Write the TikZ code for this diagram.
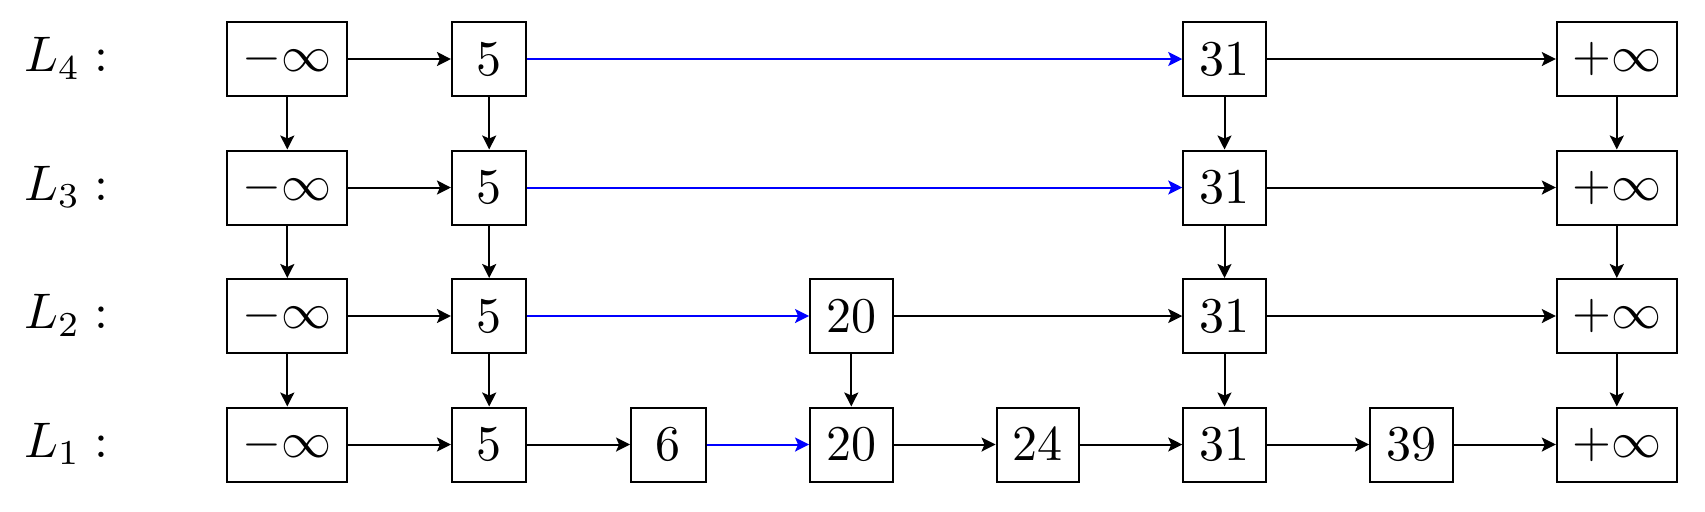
\documentclass[tikz,border=0pt]{standalone}
\usetikzlibrary{arrows.meta}
\tikzset{
  box/.style={draw, line width=0.4pt, inner sep=0pt, minimum height=14.8pt},
  wbox/.style={box, minimum width=24.0pt},
  mbox/.style={box, minimum width=16.5pt},
  nbox/.style={box, minimum width=14.9pt},
  arr/.style={-{Stealth[length=2.8pt,width=2.8pt,inset=0.6pt]}, line width=0.4pt},
  barr/.style={arr, blue},
  lab/.style={anchor=base west, inner sep=0pt}
}
\begin{document}
\begin{tikzpicture}[x=0.2pt,y=-0.2pt]
\useasboundingbox (0,0) rectangle (1705,511);
\foreach \r/\y in {4/59,3/187.5,2/316,1/444.5}{
  \node[lab] (L\r) at (23,{\y+12.7}) {$L_\r :$};
  \node[wbox] (m\r) at (287.3,\y) {$-\infty$};
  \node[nbox] (a\r) at (489.2,\y) {$5$};
  \node[mbox] (d\r) at (1224.5,\y) {$31$};
  \node[wbox] (p\r) at (1616.8,\y) {$+\infty$};
}
\node[mbox] (c2) at (851.3,316) {$20$};
\node[nbox] (b1) at (668.3,444.5) {$6$};
\node[mbox] (c1) at (851.3,444.5) {$20$};
\node[mbox] (e1) at (1037.8,444.5) {$24$};
\node[mbox] (f1) at (1411.3,444.5) {$39$};
% row 4 and 3
\foreach \r in {4,3}{
  \draw[arr] (m\r) -- (a\r);
  \draw[barr] (a\r) -- (d\r);
  \draw[arr] (d\r) -- (p\r);
}
% row 2
\draw[arr] (m2) -- (a2);
\draw[barr] (a2) -- (c2);
\draw[arr] (c2) -- (d2);
\draw[arr] (d2) -- (p2);
% row 1
\draw[arr] (m1) -- (a1);
\draw[arr] (a1) -- (b1);
\draw[barr] (b1) -- (c1);
\draw[arr] (c1) -- (e1);
\draw[arr] (e1) -- (d1);
\draw[arr] (d1) -- (f1);
\draw[arr] (f1) -- (p1);
% vertical
\foreach \n in {m,a,d,p}{
  \draw[arr] (\n4) -- (\n3);
  \draw[arr] (\n3) -- (\n2);
  \draw[arr] (\n2) -- (\n1);
}
\draw[arr] (c2) -- (c1);
\end{tikzpicture}
\end{document}
